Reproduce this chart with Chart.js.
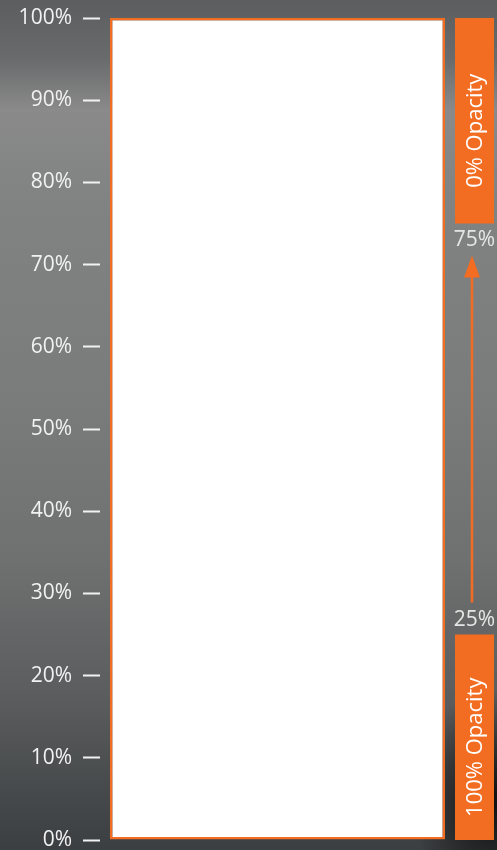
<!DOCTYPE html>
<html>
<head>
<meta charset="utf-8">
<script src="https://cdn.jsdelivr.net/npm/chart.js@4"></script>
<style>
  html, body { margin: 0; padding: 0; }
  body {
    width: 497px;
    height: 850px;
    overflow: hidden;
    background:
      radial-gradient(ellipse 80px 110px at 492px 800px, rgba(12,12,12,0.95), rgba(12,12,12,0) 100%),
      linear-gradient(180deg, #5c5d5e 0px, #6a6b6c 60px, #8a8a8a 110px, #818282 200px, #7a7b7b 400px, #6f7070 560px, #5a5c5d 700px, #45484a 800px, #3c3f42 850px);
  }
  #wrap { position: relative; width: 497px; height: 850px; }
</style>
</head>
<body>
<div id="wrap"><canvas id="chart"></canvas></div>
<script>
const categories = ["Fill"];
const fillValues = [100];
const tickValues = [0, 10, 20, 30, 40, 50, 60, 70, 80, 90, 100];

const bandStarts = [75, 0];
const bandEnds = [100, 25];
const bandLabels = ["0% Opacity", "100% Opacity"];

const markerValues = [75, 25];
const markerLabels = ["75%", "25%"];
const arrowFrom = 25;
const arrowTo = 75;

const ORANGE = "#f26d22";
const TEXT = "#f2f2f2";
const FONT = "'Open Sans', 'Noto Sans', sans-serif";

const sideColumn = {
  id: "sideColumn",
  afterDatasetsDraw(chart) {
    const { ctx, chartArea, scales } = chart;
    const y = scales.y;
    const left = chartArea.right;
    const width = 39;
    const cx = left + width / 2;

    ctx.save();
    // opacity boxes
    bandStarts.forEach((start, i) => {
      const top = y.getPixelForValue(bandEnds[i]);
      const bottom = y.getPixelForValue(start);
      ctx.fillStyle = ORANGE;
      ctx.fillRect(left, top, width, bottom - top);

      ctx.save();
      ctx.translate(cx, (top + bottom) / 2);
      ctx.rotate(-Math.PI / 2);
      ctx.fillStyle = "#ffffff";
      ctx.font = `22px ${FONT}`;
      ctx.textAlign = "center";
      ctx.textBaseline = "middle";
      ctx.fillText(bandLabels[i], -10, 1);
      ctx.restore();
    });

    // marker labels
    ctx.font = `21px ${FONT}`;
    ctx.fillStyle = "#e6e6e6";
    ctx.textAlign = "center";
    ctx.textBaseline = "middle";
    markerValues.forEach((v, i) => {
      const py = y.getPixelForValue(v);
      const offset = v > 50 ? 17 : -14;
      ctx.fillText(markerLabels[i], cx, py + offset);
    });

    // arrow
    const yStart = y.getPixelForValue(arrowFrom) - 32;
    const yEnd = y.getPixelForValue(arrowTo) + 32;
    const ax = cx - 2.5;
    ctx.strokeStyle = ORANGE;
    ctx.lineWidth = 2.5;
    ctx.beginPath();
    ctx.moveTo(ax, yStart);
    ctx.lineTo(ax, yEnd + 18);
    ctx.stroke();
    ctx.fillStyle = ORANGE;
    ctx.beginPath();
    ctx.moveTo(ax, yEnd);
    ctx.lineTo(ax - 8, yEnd + 22);
    ctx.lineTo(ax + 8, yEnd + 22);
    ctx.closePath();
    ctx.fill();
    ctx.restore();
  },
};

new Chart(document.getElementById("chart"), {
  type: "bar",
  data: {
    labels: categories,
    datasets: [
      {
        data: fillValues,
        backgroundColor: "#ffffff",
        borderColor: ORANGE,
        borderWidth: 2.5,
        borderSkipped: false,
        barPercentage: 1,
        categoryPercentage: 335 / 355,
      },
    ],
  },
  options: {
    responsive: true,
    maintainAspectRatio: false,
    animation: false,
    layout: { padding: { top: 18, right: 42, bottom: 10, left: 0 } },
    plugins: {
      legend: { display: false },
      tooltip: { enabled: false },
    },
    scales: {
      x: { display: false },
      y: {
        min: 0,
        max: 100,
        afterBuildTicks: (scale) => {
          scale.ticks = tickValues.map((value) => ({ value }));
        },
        afterFit: (scale) => {
          scale.width = 100;
          scale.paddingTop = 0;
          scale.paddingBottom = 0;
        },
        border: { display: false },
        grid: {
          drawOnChartArea: false,
          drawTicks: true,
          tickLength: 17,
          tickColor: TEXT,
          tickWidth: 2,
        },
        ticks: {
          color: TEXT,
          padding: 11,
          font: { family: FONT, size: 21 },
          callback: (value) => `${value}%`,
        },
      },
    },
  },
  plugins: [sideColumn],
});
</script>
</body>
</html>
